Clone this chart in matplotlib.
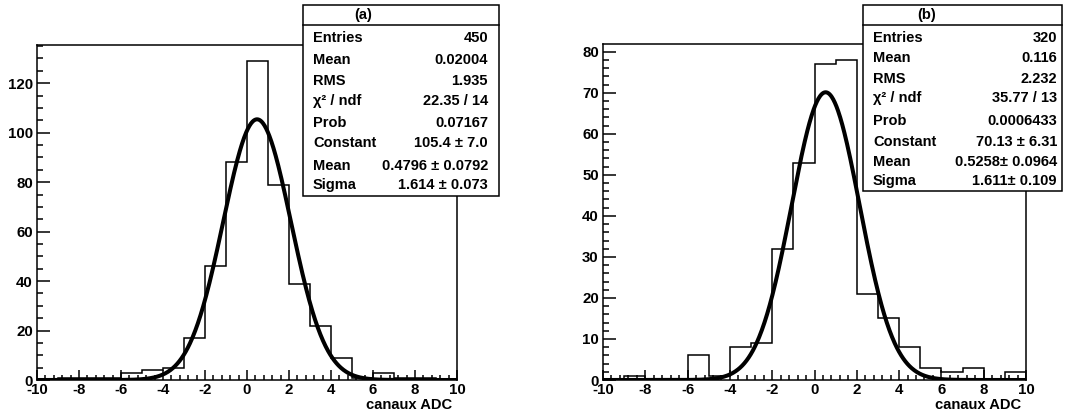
"""Two ADC-channel histograms with Gaussian fits and ROOT-style stat boxes."""

import numpy as np
import matplotlib.pyplot as plt
from matplotlib.patches import Rectangle
from matplotlib.ticker import MultipleLocator

plt.rcParams["font.family"] = ["Liberation Sans", "DejaVu Sans"]
plt.rcParams["font.weight"] = "bold"
plt.rcParams["axes.unicode_minus"] = False

W, H = 1078, 415

bin_edges = np.arange(-10, 11, 1)

counts_a = [0, 1, 1, 1, 3, 4, 5, 17, 46, 88, 129, 79, 39, 22, 9, 1, 3, 1, 1, 0]
counts_b = [0, 1, 0, 0, 6, 1, 8, 9, 32, 53, 77, 78, 21, 15, 8, 3, 2, 3, 0, 2]

fit_a = (105.4, 0.4796, 1.614)
fit_b = (70.13, 0.5258, 1.611)

stats_labels = ["Entries", "Mean", "RMS", "\u03c7\u00b2 / ndf", "Prob", "Constant", "Mean", "Sigma"]
stats_a = ["450", "0.02004", "1.935", "22.35 / 14", "0.07167",
           "105.4 \u00b1 7.0", "0.4796 \u00b1 0.0792", "1.614 \u00b1 0.073"]
stats_b = ["320", "0.116", "2.232", "35.77 / 13", "0.0006433",
           "70.13 \u00b1 6.31", "0.5258\u00b1 0.0964", "1.611\u00b1 0.109"]


def fx(px):
    return px / W


def fy(py):
    return 1 - py / H


def draw_panel(fig, rect, counts, fit, ymax, major, minor):
    left, top, right, bottom = rect
    ax = fig.add_axes([fx(left), fy(bottom), fx(right - left), (bottom - top) / H])
    ax.stairs(counts, bin_edges, color="black", linewidth=1.1)
    xs = np.linspace(-10, 10, 800)
    c, m, s = fit
    ax.plot(xs, c * np.exp(-0.5 * ((xs - m) / s) ** 2), color="black",
            linewidth=2.9, solid_capstyle="round")
    ax.set_xlim(-10, 10)
    ax.set_ylim(0, ymax)
    ax.xaxis.set_major_locator(MultipleLocator(2))
    ax.xaxis.set_minor_locator(MultipleLocator(0.4))
    ax.yaxis.set_major_locator(MultipleLocator(major))
    ax.yaxis.set_minor_locator(MultipleLocator(minor))
    ax.tick_params(axis="y", which="major", direction="in", length=9, width=1.1,
                   labelsize=10.8, pad=3)
    ax.tick_params(axis="y", which="minor", direction="in", length=4.5, width=1.1)
    ax.tick_params(axis="x", which="major", direction="in", length=7.2, width=1.1,
                   labelsize=10.8, pad=2)
    ax.tick_params(axis="x", which="minor", direction="in", length=3.6, width=1.1)
    for lab in ax.get_xticklabels() + ax.get_yticklabels():
        lab.set_fontweight("bold")
    for sp in ax.spines.values():
        sp.set_linewidth(1.1)
    fig.text(fx(right - 5), fy(405), "canaux ADC", ha="right", va="center",
             fontsize=10.6, fontweight="bold")
    return ax


def draw_stats(fig, box, title, title_x, values, rows_y, value_x):
    left, top, right, bottom = box
    fig.patches.append(Rectangle((fx(left), fy(bottom)), fx(right - left),
                                 (bottom - top) / H, transform=fig.transFigure,
                                 facecolor="white", edgecolor="black",
                                 linewidth=1.1, zorder=5))
    fig.lines.append(plt.Line2D([fx(left), fx(right)], [fy(25), fy(25)],
                                transform=fig.transFigure, color="black",
                                linewidth=1.1, zorder=6))
    fig.text(fx(title_x), fy(15), title, ha="center", va="center", fontsize=10.6,
             fontweight="bold", zorder=7)
    for lab, val, y in zip(stats_labels, values, rows_y):
        fig.text(fx(left + 10), fy(y), lab, ha="left", va="center", fontsize=10.5,
                 fontweight="bold", zorder=7)
        fig.text(fx(value_x), fy(y), val, ha="right", va="center", fontsize=10.5,
                 fontweight="bold", zorder=7)


def main():
    fig = plt.figure(figsize=(W / 100, H / 100), dpi=100)
    draw_panel(fig, (37, 45, 457, 380), counts_a, fit_a, 129 * 1.05, 20, 5)
    draw_panel(fig, (603, 44, 1026, 380), counts_b, fit_b, 78 * 1.05, 10, 2)
    draw_stats(fig, (303, 5, 499, 196), "(a)", 363, stats_a,
               [38, 60, 81, 101, 123, 143, 166, 185], 488)
    draw_stats(fig, (863, 5, 1062, 191), "(b)", 927, stats_b,
               [38, 58, 79, 98, 121, 142, 162, 181], 1057)
    fig.savefig("out.png", dpi=100)


if __name__ == "__main__":
    main()
